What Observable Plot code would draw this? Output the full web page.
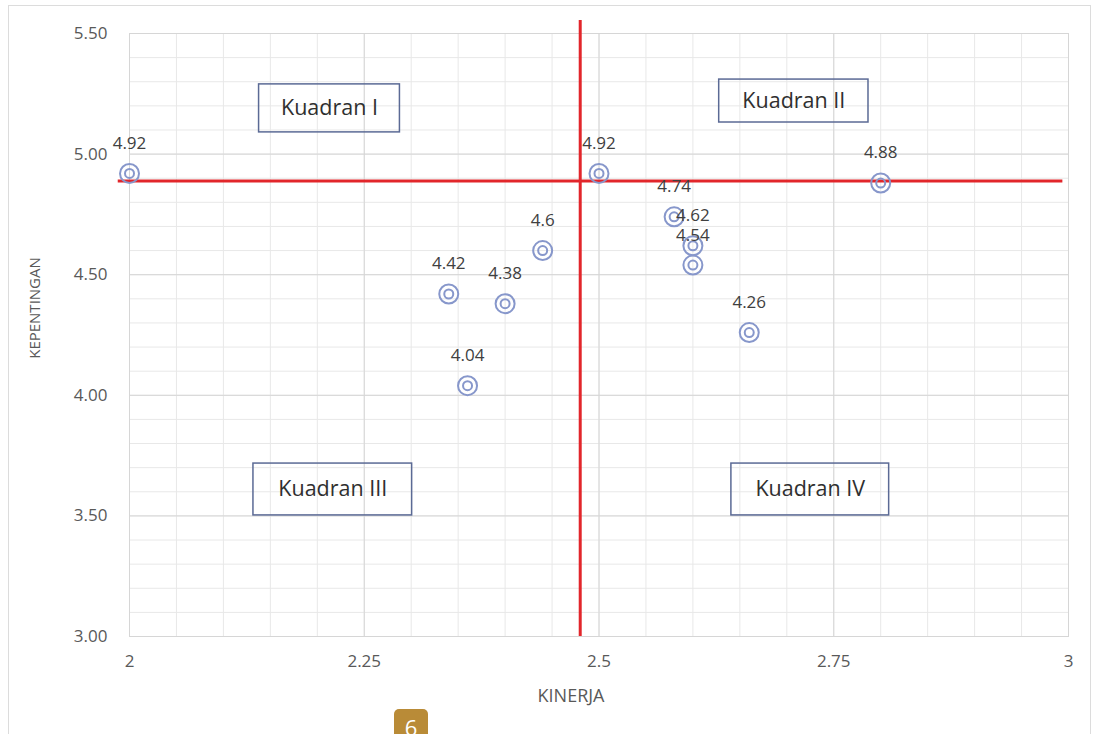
<!DOCTYPE html>
<html><head><meta charset="utf-8">
<script src="https://cdn.jsdelivr.net/npm/d3@7"></script>
<script src="https://cdn.jsdelivr.net/npm/@observablehq/plot@0.6"></script>
<style>
body{margin:0;background:#fff;overflow:hidden;}
#wrap{position:relative;width:1093px;height:734px;overflow:hidden;font-family:"Open Sans",sans-serif;}
#frame{position:absolute;left:8px;top:5px;width:1081px;height:760px;border:1px solid #dcdcdc;}
#badge{position:absolute;left:394px;top:709px;width:34px;height:40px;background:#b98b37;border-radius:5px;color:#fff;font-size:22px;text-align:center;line-height:1;padding-top:7px;box-sizing:border-box;}
#chart{position:absolute;left:0;top:0;}
</style></head>
<body>
<div id="wrap"><div id="frame"></div><div id="chart"></div><div id="badge">6</div></div>
<script>
// Data
const kinerja     = [2.00, 2.50, 2.80, 2.58, 2.60, 2.60, 2.66, 2.44, 2.34, 2.40, 2.36];
const kepentingan = [4.92, 4.92, 4.88, 4.74, 4.62, 4.54, 4.26, 4.60, 4.42, 4.38, 4.04];
const xTicks = [2, 2.25, 2.5, 2.75, 3];
const yTicks = [3.0, 3.5, 4.0, 4.5, 5.0, 5.5];
const quadrantNames = ["Kuadran I", "Kuadran II", "Kuadran III", "Kuadran IV"];
const quadrantX1 = [2.138, 2.628, 2.132, 2.641];
const quadrantX2 = [2.288, 2.787, 2.301, 2.809];
const quadrantY1 = [5.090, 5.131, 3.502, 3.502];
const quadrantY2 = [5.289, 5.309, 3.717, 3.717];
const meanKinerja = 2.48;
const lineKepentingan = 4.888;
const hLineX = [1.988, 2.994];
const vLineY = [3.0, 5.554];

const points = kinerja.map((x, i) => ({x, y: kepentingan[i], label: String(kepentingan[i])}));
const quadrants = quadrantNames.map((name, i) => ({name, x1: quadrantX1[i], x2: quadrantX2[i], y1: quadrantY1[i], y2: quadrantY2[i]}));
const minorX = d3.range(0, 21).map(i => 2 + i * 0.05);
const minorY = d3.range(0, 26).map(i => 3 + i * 0.1);

const red = "#e2262b";
const ring = "#8797cb";

const chart = Plot.plot({
  width: 1093, height: 734,
  marginLeft: 129, marginRight: 25, marginTop: 33, marginBottom: 98,
  style: {fontFamily: "'Open Sans', sans-serif", background: "transparent", overflow: "visible"},
  x: {domain: [2, 3]},
  y: {domain: [3, 5.5]},
  marks: [
    Plot.ruleX(minorX, {stroke: "#e8e8e8", strokeWidth: 1}),
    Plot.ruleY(minorY, {stroke: "#e8e8e8", strokeWidth: 1}),
    Plot.ruleX(xTicks, {stroke: "#d6d6d6", strokeWidth: 1}),
    Plot.ruleY(yTicks, {stroke: "#d6d6d6", strokeWidth: 1}),
    Plot.frame({stroke: "#d6d6d6"}),
    Plot.axisX({ticks: xTicks, tickSize: 0, tickPadding: 18, fontSize: 17, fill: "#595959", tickFormat: d => String(d), label: null}),
    Plot.axisY({ticks: yTicks, tickSize: 0, tickPadding: 22, fontSize: 17, fill: "#595959", tickFormat: d3.format(".2f"), label: null}),
    Plot.rect(quadrants, {x1: "x1", x2: "x2", y1: "y1", y2: "y2", fill: "none", stroke: "#5b6a95", strokeWidth: 1.5}),
    Plot.text(quadrants, {x: d => (d.x1 + d.x2) / 2, y: d => (d.y1 + d.y2) / 2, text: "name", fontSize: 21.5, fill: "#2f2f2f"}),
    Plot.ruleY([lineKepentingan], {x1: hLineX[0], x2: hLineX[1], stroke: red, strokeWidth: 3}),
    Plot.ruleX([meanKinerja], {y1: vLineY[0], y2: vLineY[1], stroke: red, strokeWidth: 3}),
    Plot.dot(points, {x: "x", y: "y", r: 9.5, stroke: ring, strokeWidth: 2, fill: "none"}),
    Plot.dot(points, {x: "x", y: "y", r: 4.5, stroke: ring, strokeWidth: 2, fill: "none"}),
    Plot.text(points, {x: "x", y: "y", text: "label", dy: -30, fontSize: 17, fill: "#404040"}),
    Plot.text(["KEPENTINGAN"], {frameAnchor: "left", textAnchor: "middle", rotate: -90, dx: -94, dy: -27, fontSize: 15, fill: "#595959"}),
    Plot.text(["KINERJA"], {frameAnchor: "bottom", textAnchor: "middle", dx: -28, dy: 65, fontSize: 18, fill: "#595959"})
  ]
});
document.getElementById("chart").appendChild(chart);
</script>
</body></html>
